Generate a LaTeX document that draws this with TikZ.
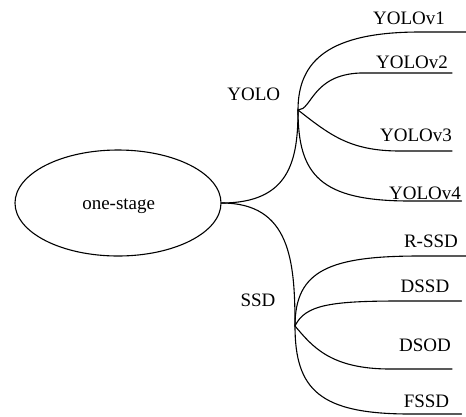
\documentclass[tikz,border=0pt]{standalone}
\usepackage{fontspec}
\setmainfont{Liberation Serif}
\usetikzlibrary{shapes.geometric}
\begin{document}
\begin{tikzpicture}[x=1pt,y=-1pt,
  lbl/.style={anchor=base,font=\fontsize{19}{22}\selectfont,inner sep=0pt},
  link/.style={line width=1.1pt,line cap=round}]
\useasboundingbox (0,0) rectangle (466,416);

% root topic
\node[draw,ellipse,line width=1.1pt,minimum width=206pt,minimum height=106pt,inner sep=0pt] (root) at (118,203) {};
\node[lbl] (rootlbl) at (118.7,209) {one-stage};

% branch points
\coordinate (jy) at (298,110);
\coordinate (js) at (295,326);
\node[lbl] (yolo) at (253.7,100) {YOLO};
\node[lbl] (ssd) at (258,306.7) {SSD};

\draw[link] (root.east) .. controls (290,203) and (298,160) .. (jy);
\draw[link] (root.east) .. controls (290,203) and (295,260) .. (js);

% YOLO family
\node[lbl] (v1) at (409,24) {YOLOv1};
\node[lbl] (v2) at (412,68.3) {YOLOv2};
\node[lbl] (v3) at (416,141.7) {YOLOv3};
\node[lbl] (v4) at (425,199.3) {YOLOv4};
\coordinate (v1s) at (420,32);  \coordinate (v1e) at (466,32);
\coordinate (v2s) at (360,73);  \coordinate (v2e) at (452,73);
\coordinate (v3s) at (400,151); \coordinate (v3e) at (452,151);
\coordinate (v4s) at (410,201); \coordinate (v4e) at (461.5,201);

\draw[link] (jy) .. controls (298,60) and (330,32) .. (v1s) -- (v1e);
\draw[link] (jy) .. controls (312,110) and (312,75) .. (v2s) -- (v2e);
\draw[link] (jy) .. controls (330,135) and (350,151) .. (v3s) -- (v3e);
\draw[link] (jy) .. controls (298,175) and (320,201) .. (v4s) -- (v4e);

% SSD family
\node[lbl] (rssd) at (431,247.7) {R-SSD};
\node[lbl] (dssd) at (425,292) {DSSD};
\node[lbl] (dsod) at (425,351.3) {DSOD};
\node[lbl] (fssd) at (426.5,407) {FSSD};
\coordinate (s1s) at (420,256); \coordinate (s1e) at (466,256);
\coordinate (s2s) at (400,301); \coordinate (s2e) at (461.5,301);
\coordinate (s3s) at (390,369); \coordinate (s3e) at (452,369);
\coordinate (s4s) at (410,414); \coordinate (s4e) at (461.5,414);

\draw[link] (js) .. controls (295,270) and (330,256) .. (s1s) -- (s1e);
\draw[link] (js) .. controls (305,305) and (330,301) .. (s2s) -- (s2e);
\draw[link] (js) .. controls (312,346) and (330,369) .. (s3s) -- (s3e);
\draw[link] (js) .. controls (295,390) and (320,414) .. (s4s) -- (s4e);
\end{tikzpicture}
\end{document}
